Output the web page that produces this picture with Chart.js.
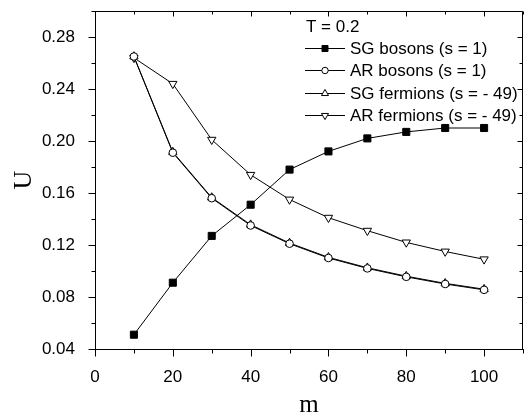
<!DOCTYPE html>
<html>
<head>
<meta charset="utf-8">
<script src="https://cdn.jsdelivr.net/npm/chart.js@4/dist/chart.umd.min.js"></script>
<style>
  html, body { margin: 0; padding: 0; background: #fff; }
  #wrap { width: 524px; height: 418px; position: relative; }
</style>
</head>
<body>
<div id="wrap"><canvas id="c" width="524" height="418"></canvas></div>
<script>
// ---- data ----
const mValues      = [10, 20, 30, 40, 50, 60, 70, 80, 90, 100];
const sgBosons     = [0.051, 0.091, 0.127, 0.151, 0.178, 0.192, 0.202, 0.207, 0.210, 0.210];
const arBosons     = [0.265, 0.191, 0.156, 0.135, 0.121, 0.110, 0.102, 0.0955, 0.090, 0.0855];
const sgFermions   = [0.265, 0.1915, 0.1565, 0.1356, 0.1215, 0.1105, 0.1025, 0.096, 0.0905, 0.086];
const arFermions   = [0.264, 0.244, 0.201, 0.174, 0.155, 0.141, 0.131, 0.122, 0.115, 0.109];
const seriesLabels = ['SG bosons (s = 1)', 'AR bosons (s = 1)', 'SG fermions (s = - 49)', 'AR fermions (s = - 49)'];
const legendTitle  = 'T = 0.2';
const xTickLabels  = ['0', '20', '40', '60', '80', '100'];
const yTickLabels  = ['0.04', '0.08', '0.12', '0.16', '0.20', '0.24', '0.28'];
const xMinorTicks  = [10, 30, 50, 70, 90, 110];
const yMinorTicks  = [0.06, 0.10, 0.14, 0.18, 0.22, 0.26, 0.30];
const xTitle = 'm';
const yTitle = 'U';

const SANS = '"Liberation Sans", Arial, sans-serif';
const SERIF = '"Liberation Serif", "Times New Roman", serif';

function pts(vals) { return mValues.map((m, i) => ({ x: m, y: vals[i] })); }

const datasets = [
  { label: seriesLabels[0], data: pts(sgBosons), pointStyle: 'rect', pointRadius: 5, backgroundColor: '#000', rotation: 0 },
  { label: seriesLabels[1], data: pts(arBosons), pointStyle: 'circle', pointRadius: 3.8, backgroundColor: '#fff', rotation: 0 },
  { label: seriesLabels[2], data: pts(sgFermions), pointStyle: 'triangle', pointRadius: 4.8, backgroundColor: '#fff', rotation: 0 },
  { label: seriesLabels[3], data: pts(arFermions), pointStyle: 'triangle', pointRadius: 4.8, backgroundColor: '#fff', rotation: 180 }
].map(d => Object.assign({
  borderColor: '#000', borderWidth: 1, pointBorderColor: '#000', pointBorderWidth: 1,
  pointBackgroundColor: d.backgroundColor, pointRotation: d.rotation, tension: 0, fill: false
}, d));

// frame + ticks (inward on top/right, outward on left/bottom)
const frameTicks = {
  id: 'frameTicks',
  afterDraw(chart) {
    const { ctx, chartArea: a, scales: { x, y } } = chart;
    ctx.save();
    ctx.strokeStyle = '#000';
    ctx.lineWidth = 1;
    const L = Math.round(a.left) + 0.5, R = Math.round(a.right) - 0.5, T = Math.round(a.top) + 0.5, B = Math.round(a.bottom) + 0.5;
    ctx.beginPath();
    ctx.moveTo(L, B); ctx.lineTo(L, T); ctx.lineTo(R, T); ctx.lineTo(R, B); ctx.lineTo(L, B);
    xTickLabels.forEach(t => {
      const px = Math.round(x.getPixelForValue(+t)) + 0.5;
      ctx.moveTo(px, B); ctx.lineTo(px, B + 7);
      ctx.moveTo(px, T); ctx.lineTo(px, T + 5);
    });
    xMinorTicks.forEach(t => {
      const px = Math.round(x.getPixelForValue(t)) + 0.5;
      ctx.moveTo(px, B); ctx.lineTo(px, B + 4);
      ctx.moveTo(px, T); ctx.lineTo(px, T + 3);
    });
    yTickLabels.forEach(t => {
      const py = Math.round(y.getPixelForValue(+t)) + 0.5;
      ctx.moveTo(L, py); ctx.lineTo(L - 7, py);
      ctx.moveTo(R, py); ctx.lineTo(R - 5, py);
    });
    yMinorTicks.forEach(t => {
      const py = Math.round(y.getPixelForValue(t)) + 0.5;
      ctx.moveTo(L, py); ctx.lineTo(L - 4, py);
      ctx.moveTo(R, py); ctx.lineTo(R - 3, py);
    });
    ctx.stroke();
    ctx.restore();
  }
};

// legend inside the plot, Origin style (line - marker - line)
const insideLegend = {
  id: 'insideLegend',
  afterDraw(chart) {
    const { ctx } = chart;
    ctx.save();
    ctx.fillStyle = '#000';
    ctx.font = '17px ' + SANS;
    ctx.textBaseline = 'middle';
    ctx.textAlign = 'left';
    ctx.fillText(legendTitle, 306, 27);
    const rows = [48, 70, 93, 115];
    chart.data.datasets.forEach((ds, i) => {
      const yy = rows[i];
      ctx.strokeStyle = '#000';
      ctx.lineWidth = 1;
      ctx.beginPath();
      ctx.moveTo(305, yy + 0.5); ctx.lineTo(345, yy + 0.5);
      ctx.stroke();
      ctx.fillStyle = ds.pointBackgroundColor;
      ctx.strokeStyle = '#000';
      Chart.helpers.drawPoint(ctx, {
        pointStyle: ds.pointStyle, rotation: ds.pointRotation, radius: ds.pointRadius * 0.85, borderWidth: 1
      }, 325, yy + 0.5);
      ctx.fillStyle = '#000';
      ctx.fillText(ds.label, 350, yy + 1);
    });
    ctx.restore();
  }
};

function noPad(s) { s.paddingTop = 0; s.paddingBottom = 0; s.paddingLeft = 0; s.paddingRight = 0; }

new Chart(document.getElementById('c'), {
  type: 'line',
  data: { datasets },
  options: {
    responsive: false,
    animation: false,
    devicePixelRatio: 1,
    layout: { autoPadding: false, padding: { top: 11, right: 1, left: 0, bottom: 0 } },
    plugins: { legend: { display: false }, tooltip: { enabled: false } },
    scales: {
      x: {
        type: 'linear', min: 0, max: 110,
        afterBuildTicks: s => { s.ticks = xTickLabels.map(v => ({ value: +v })); },
        afterFit: s => { s.height = 69; noPad(s); },
        ticks: { color: '#000', font: { family: SANS, size: 17 }, padding: 10, maxRotation: 0,
                 callback: (v, i) => xTickLabels[i] },
        grid: { display: false },
        border: { display: true, color: '#000', width: 1 },
        title: { display: true, text: xTitle, color: '#000', font: { family: SERIF, size: 25, lineHeight: 1 }, padding: { top: 0, bottom: 0 } }
      },
      y: {
        type: 'linear', min: 0.04, max: 0.30,
        afterBuildTicks: s => { s.ticks = yTickLabels.map(v => ({ value: +v })); },
        afterFit: s => { s.width = 95; noPad(s); },
        ticks: { color: '#000', font: { family: SANS, size: 17 }, padding: 12,
                 callback: (v, i) => yTickLabels[i] },
        grid: { display: false },
        border: { display: true, color: '#000', width: 1 },
        title: { display: true, text: yTitle, color: '#000', font: { family: SERIF, size: 26, lineHeight: 1 }, padding: { top: 11, bottom: 0 } }
      }
    }
  },
  plugins: [frameTicks, insideLegend]
});
</script>
</body>
</html>
